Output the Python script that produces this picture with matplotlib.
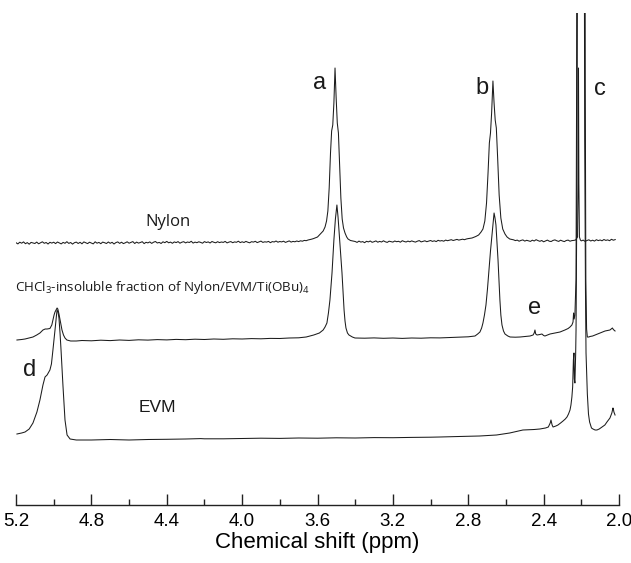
import matplotlib
matplotlib.use("Agg")
import matplotlib.pyplot as plt
from matplotlib.ticker import MultipleLocator

plt.rcParams['mathtext.fontset'] = 'custom'
plt.rcParams['mathtext.rm'] = 'Open Sans'
plt.rcParams['mathtext.it'] = 'Open Sans'

# ---------------- data (relative intensities above each trace's baseline) ----------------
nylon_ppm = [5.20, 5.19, 5.18, 5.17, 5.16, 5.15, 5.14, 5.13, 5.12, 5.11,
             5.10, 5.09, 5.08, 5.07, 5.06, 5.05, 5.04, 5.03, 5.02, 5.01,
             5.00, 4.99, 4.98, 4.97, 4.96, 4.95, 4.94, 4.93, 4.92, 4.91,
             4.90, 4.89, 4.88, 4.87, 4.86, 4.85, 4.84, 4.83, 4.82, 4.81,
             4.80, 4.79, 4.78, 4.77, 4.76, 4.75, 4.74, 4.73, 4.72, 4.71,
             4.70, 4.69, 4.68, 4.67, 4.66, 4.65, 4.64, 4.63, 4.62, 4.61,
             4.60, 4.59, 4.58, 4.57, 4.56, 4.55, 4.54, 4.53, 4.52, 4.51,
             4.50, 4.49, 4.48, 4.47, 4.46, 4.45, 4.44, 4.43, 4.42, 4.41,
             4.40, 4.39, 4.38, 4.37, 4.36, 4.35, 4.34, 4.33, 4.32, 4.31,
             4.30, 4.29, 4.28, 4.27, 4.26, 4.25, 4.24, 4.23, 4.22, 4.21,
             4.20, 4.19, 4.18, 4.17, 4.16, 4.15, 4.14, 4.13, 4.12, 4.11,
             4.10, 4.09, 4.08, 4.07, 4.06, 4.05, 4.04, 4.03, 4.02, 4.01,
             4.00, 3.99, 3.98, 3.97, 3.96, 3.95, 3.94, 3.93, 3.92, 3.91,
             3.90, 3.89, 3.88, 3.87, 3.86, 3.85, 3.84, 3.83, 3.82, 3.81,
             3.80, 3.79, 3.78, 3.77, 3.76, 3.75, 3.74, 3.73, 3.72, 3.71,
             3.70, 3.69, 3.68, 3.67, 3.66, 3.65, 3.64, 3.63, 3.62,
             3.600, 3.585, 3.570, 3.560, 3.552, 3.545, 3.538, 3.531, 3.525, 3.519, 3.513, 3.507,
             3.501, 3.495, 3.489, 3.483, 3.476, 3.469, 3.462, 3.454, 3.445, 3.438, 3.425,
             3.40, 3.39, 3.38, 3.37, 3.36, 3.35, 3.34, 3.33, 3.32, 3.31,
             3.30, 3.29, 3.28, 3.27, 3.26, 3.25, 3.24, 3.23, 3.22, 3.21,
             3.20, 3.19, 3.18, 3.17, 3.16, 3.15, 3.14, 3.13, 3.12, 3.11,
             3.10, 3.09, 3.08, 3.07, 3.06, 3.05, 3.04, 3.03, 3.02, 3.01,
             3.00, 2.99, 2.98, 2.97, 2.96, 2.95, 2.94, 2.93, 2.92, 2.91,
             2.90, 2.89, 2.88, 2.87, 2.86, 2.85, 2.84, 2.83, 2.82, 2.81,
             2.80,
             2.780, 2.760, 2.745, 2.732, 2.722, 2.712, 2.703, 2.695, 2.688, 2.682, 2.676, 2.669,
             2.663, 2.657, 2.651, 2.644, 2.636, 2.627, 2.617, 2.605, 2.594, 2.580,
             2.56, 2.55, 2.54, 2.53, 2.52, 2.51, 2.50, 2.49, 2.48, 2.47,
             2.46, 2.45, 2.44, 2.43, 2.42, 2.41, 2.40, 2.39, 2.38, 2.37,
             2.36, 2.35, 2.34, 2.33, 2.32, 2.31, 2.30, 2.29, 2.28, 2.27,
             2.26, 2.25, 2.24, 2.23,
             2.220, 2.217, 2.215, 2.213, 2.210, 2.205,
             2.20, 2.19, 2.18, 2.17, 2.16, 2.15, 2.14, 2.13, 2.12, 2.11,
             2.10, 2.09, 2.08, 2.07, 2.06, 2.05, 2.04, 2.03, 2.02]
nylon_int = [0.3, -0.9, 0.8, -0.2, 1.1, -0.7, 0.4, -1.2, 0.6, 0.1,
             -0.5, 0.9, -0.8, 0.2, 1.2, -0.3, 0.5, -1.0, 0.7, -0.1,
             0.8, -0.6, 1.0, 0.0, -0.9, 0.6, -0.3, 1.3, -0.4, 0.5,
             -1.1, 0.3, 0.9, -0.5, 0.7, -0.8, 1.1, 0.2, -0.6, 0.8,
             0.0, -0.9, 1.2, -0.2, 0.6, -0.7, 0.9, 0.3, -0.5, 1.0,
             -0.3, 0.7, -1.0, 0.4, 1.1, -0.4, 0.8, -0.6, 0.2, 1.2,
             -0.2, 0.6, 1.4, -0.5, 0.9, -0.1, 0.5, 1.3, -0.6, 0.7,
             0.1, 1.1, -0.4, 0.8, 1.5, 0.0, 0.6, -0.5, 1.2, 0.3,
             1.6, 0.2, 0.9, -0.3, 1.1, 0.4, 1.4, -0.2, 0.8, 1.3,
             0.1, 1.0, 0.5, 1.7, -0.1, 0.9, 0.3, 1.2, 0.6, -0.2,
             1.4, 0.5, 1.1, 0.0, 1.5, 0.7, 0.2, 1.3, 0.4, 1.0,
             0.6, 1.6, 0.1, 0.9, 1.4, 0.3, 1.1, 0.7, 1.8, 0.4,
             1.2, 0.5, 1.6, 0.8, 0.2, 1.3, 0.9, 1.7, 0.4, 1.1,
             1.9, 0.6, 1.2, 0.9, 1.6, 0.3, 1.4, 1.0, 2.0, 0.8,
             1.5, 1.1, 1.8, 0.6, 1.3, 2.1, 0.9, 1.6, 1.2, 2.0,
             1.4, 2.2, 1.8, 2.6, 2.3, 3.0, 3.4, 3.9, 4.5,
             6, 9, 12, 16, 22, 32, 55, 90, 112, 118, 140, 175,
             145, 120, 110, 80, 45, 24, 15, 10, 6, 4, 2.5,
             1.5, 0.6, 1.9, 0.9, 1.4, 0.3, 1.7, 1.1, 2.0, 0.7,
             1.3, 2.1, 0.8, 1.6, 1.0, 2.2, 1.2, 0.6, 1.8, 1.4,
             0.9, 2.0, 1.3, 1.7, 0.8, 2.3, 1.5, 1.0, 1.9, 1.2,
             2.1, 1.4, 0.9, 1.8, 2.4, 1.1, 1.6, 2.2, 1.3, 1.9,
             2.5, 1.6, 2.2, 1.4, 2.7, 2.0, 2.4, 1.8, 2.9, 2.3,
             2.8, 3.3, 2.5, 3.0, 3.6, 2.9, 3.4, 3.8, 3.3, 4.0,
             4.4,
             5, 6.5, 8, 11, 14, 22, 40, 70, 100, 110, 130, 162,
             140, 123, 115, 85, 48, 25, 14, 9, 6, 4,
             3.2, 2.4, 2.9, 1.8, 2.6, 3.1, 1.9, 2.7, 2.2, 1.6,
             2.8, 2.0, 3.3, 2.4, 1.7, 2.5, 1.2, 2.1, 2.9, 1.8,
             1.5, 2.6, 3.1, 2.2, 1.6, 2.8, 2.0, 1.4, 2.5, 2.9,
             1.8, 2.4, 2.6, 3.0,
             6, 60, 175, 60, 6, 3,
             2.1, 2.9, 1.6, 2.5, 3.2, 2.0, 2.8, 1.9, 3.3, 2.4,
             3.0, 2.2, 3.5, 2.6, 3.1, 2.3, 3.7, 2.8, 3.4]

blend_ppm = [5.195, 5.170, 5.152, 5.130, 5.110, 5.090, 5.073, 5.057, 5.045, 5.035, 5.020, 5.010,
             5.004, 4.998, 4.993, 4.982, 4.978, 4.972, 4.964, 4.956, 4.948, 4.940, 4.930, 4.910,
             4.880, 4.85, 4.80, 4.75, 4.70, 4.65, 4.60, 4.55, 4.50, 4.45, 4.40, 4.35, 4.30, 4.25,
             4.20, 4.15, 4.10, 4.05, 4.00, 3.95, 3.90, 3.85, 3.80, 3.75, 3.70, 3.66, 3.62, 3.59,
             3.57, 3.56, 3.550, 3.542, 3.534, 3.523, 3.513, 3.505, 3.497, 3.491, 3.486, 3.478,
             3.470, 3.464, 3.459, 3.454, 3.449, 3.441, 3.433, 3.415, 3.401,
             3.35, 3.30, 3.25, 3.20, 3.15, 3.10, 3.05, 3.00, 2.95, 2.90, 2.85, 2.80, 2.764,
             2.750, 2.738, 2.729, 2.722, 2.714, 2.706, 2.698, 2.690, 2.682, 2.674, 2.668, 2.663,
             2.658, 2.653, 2.648, 2.642, 2.637, 2.632, 2.627, 2.621, 2.613, 2.605, 2.590, 2.578,
             2.55, 2.525, 2.50, 2.472, 2.456, 2.450, 2.446, 2.442, 2.435, 2.42, 2.409, 2.40,
             2.393, 2.38, 2.366, 2.34, 2.313, 2.287, 2.270, 2.260, 2.250, 2.244, 2.241, 2.238,
             2.234, 2.228, 2.225, 2.222, 2.202, 2.182, 2.179, 2.176, 2.172, 2.168, 2.160, 2.154,
             2.140, 2.127, 2.101, 2.074, 2.048, 2.035, 2.030, 2.021]
blend_int = [-1, -0.5, 0, 1, 2, 4, 6, 9, 10, 10, 10.5, 14,
             19, 24, 27, 31, 30, 25, 17, 9, 4, 1, -1, -2,
             -2, -1.5, -1.8, -1.2, -1.6, -1.0, -1.4, -0.8, -1.1, -0.6, -0.9, -0.4, -0.7, -0.2,
             -0.5, 0.0, -0.3, 0.2, 0.0, 0.4, 0.2, 0.6, 0.5, 1.0, 1.2, 2, 4, 6,
             9, 12, 16, 26, 39, 66, 99, 120, 134, 122, 109, 88,
             66, 45, 29, 18, 11, 6, 4, 2, 1,
             0.8, 1.1, 0.7, 1.0, 0.6, 1.0, 0.8, 1.2, 1.1, 1.5, 1.8, 2.2, 3,
             5, 7, 11, 16, 24, 34, 50, 69, 88, 104, 116, 126,
             121, 114, 98, 79, 58, 39, 24, 14, 8, 5, 3, 2,
             1.8, 2, 2.5, 3, 4, 6, 9, 5, 4, 4.5, 5, 3.5,
             3, 4, 5, 6, 7, 9, 10.5, 12, 14, 17, 26, 20,
             24, 60, 250, 700, 1500, 700, 250, 60, 10, 2, 2, 2.5,
             3, 4, 6, 8, 9, 11, 9.5, 8]

evm_ppm = [5.195, 5.170, 5.152, 5.130, 5.110, 5.089, 5.073, 5.057, 5.046, 5.035, 5.020, 5.012,
           5.004, 4.998, 4.993, 4.985, 4.982, 4.977, 4.972, 4.966, 4.961, 4.951, 4.940, 4.929,
           4.913, 4.880, 4.80, 4.70, 4.60, 4.50, 4.40, 4.30, 4.22, 4.20, 4.10, 4.00, 3.90,
           3.80, 3.70, 3.60, 3.50, 3.40, 3.30, 3.20, 3.10, 3.00, 2.95, 2.85, 2.74, 2.65,
           2.58, 2.51, 2.45, 2.42, 2.39, 2.375, 2.365, 2.361, 2.355, 2.350, 2.335, 2.324,
           2.310, 2.297, 2.285, 2.276, 2.268, 2.260, 2.255, 2.250, 2.246, 2.242, 2.239, 2.237,
           2.234, 2.230, 2.228, 2.225, 2.222, 2.218, 2.202, 2.186, 2.182, 2.178, 2.175, 2.168,
           2.162, 2.156, 2.146, 2.138, 2.127, 2.117, 2.105, 2.090, 2.075, 2.064, 2.048, 2.038,
           2.032, 2.029, 2.027, 2.021]
evm_int = [5, 6, 7, 10, 16, 27, 39, 54, 62, 64, 69, 75,
           89, 100, 109, 124, 129, 127, 121, 105, 89, 54, 19, 4,
           0, -1, -1, -0.5, -1, -0.5, -0.3, 0, 0.4, 0.2, 0.2, 0.5, 0.8,
           0.6, 1.0, 0.8, 1.2, 1.0, 1.4, 1.3, 1.6, 1.8, 2, 2.5, 3, 4,
           6, 9, 9.5, 10, 11, 12, 16, 19, 14, 12, 13, 14,
           16, 18, 20, 22, 25, 29, 34, 42, 52, 79, 86, 60,
           56, 85, 109, 200, 340, 700, 2200, 700, 300, 150, 86, 45,
           25, 17, 11, 10, 9, 9, 10, 12, 14, 17, 21, 26,
           31, 29, 27, 24]

trace_offsets = [262, 166, 66]
trace_names = ["Nylon", r"CHCl$_3$-insoluble fraction of Nylon/EVM/Ti(OBu)$_4$", "EVM"]
peak_letters = ["a", "b", "c", "d", "e"]
x_ticks = [5.2, 4.8, 4.4, 4.0, 3.6, 3.2, 2.8, 2.4, 2.0]

# ---------------- figure ----------------
W, H = 631, 563
fig = plt.figure(figsize=(W / 100, H / 100), dpi=100)
ax = fig.add_axes([16 / W, (H - 505) / H, (619 - 16) / W, (505 - 13) / H])

line_kw = dict(color="#1c1c1c", lw=0.75)
for ppm, inten, off in zip([nylon_ppm, blend_ppm, evm_ppm],
                           [nylon_int, blend_int, evm_int], trace_offsets):
    ax.plot(ppm, [v + off for v in inten], **line_kw)

ax.set_xlim(5.2, 2.0)
ax.set_ylim(0, 492)

for s in ["left", "right", "top"]:
    ax.spines[s].set_visible(False)
ax.spines["bottom"].set_linewidth(1.0)
ax.spines["bottom"].set_color("#222222")
ax.set_yticks([])
ax.set_xticks(x_ticks)
ax.set_xticklabels([f"{t:.1f}" for t in x_ticks])
ax.xaxis.set_minor_locator(MultipleLocator(0.2))
ax.tick_params(axis="x", which="major", direction="in", length=8, width=1.0,
               color="#222222", labelsize=13.5, pad=6)
ax.tick_params(axis="x", which="minor", direction="in", length=4, width=1.0, color="#222222")
for lab in ax.get_xticklabels():
    lab.set_fontfamily("Liberation Sans")
ax.set_xlabel("Chemical shift (ppm)", fontsize=16, fontfamily="Liberation Sans", labelpad=1)

# trace names
ax.text(4.393, 283, trace_names[0], fontsize=12, fontfamily="Open Sans",
        ha="center", va="center", color="#1a1a1a")
ax.text(5.205, 218, trace_names[1], fontsize=9.6, fontfamily="Open Sans",
        ha="left", va="center", color="#1a1a1a")
ax.text(4.452, 98, trace_names[2], fontsize=12.5, fontfamily="Liberation Sans",
        ha="center", va="center", color="#1a1a1a")

# peak letters
letter_pos = [(3.587, 422), (2.727, 417), (2.101, 416), (5.126, 135), (2.446, 197)]
for lt, (px, py) in zip(peak_letters, letter_pos):
    ax.text(px, py, lt, fontsize=17, fontfamily="Liberation Sans",
            ha="center", va="center", color="#1a1a1a")

fig.savefig("out.png", dpi=100)
